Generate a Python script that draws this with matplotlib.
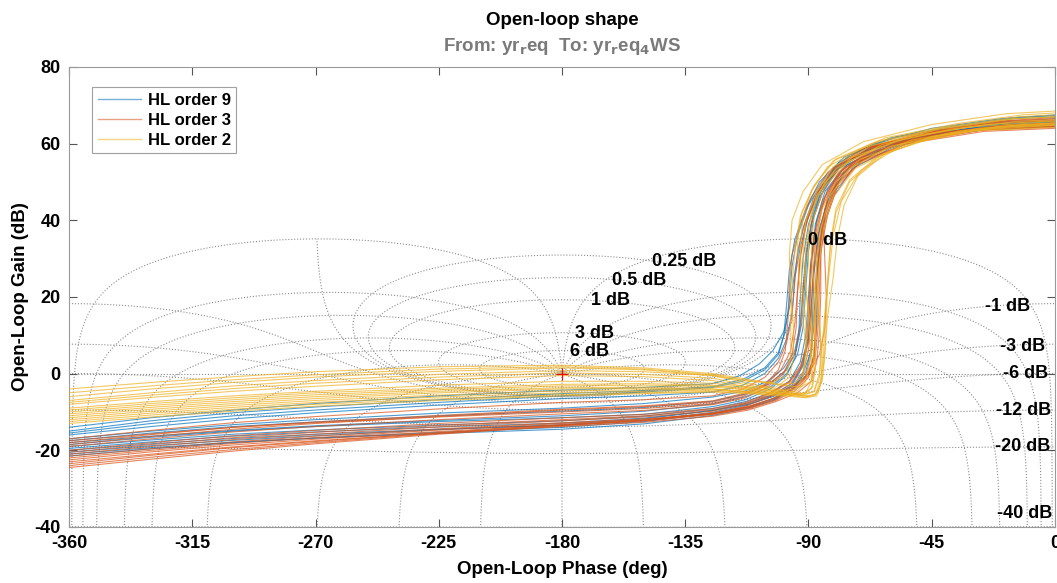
import numpy as np
import matplotlib
matplotlib.use('Agg')
import matplotlib.pyplot as plt
from matplotlib.lines import Line2D

plt.rcParams.update({
    "font.family": ["Liberation Sans", "DejaVu Sans"],
    "font.weight": "bold",
    "mathtext.default": "regular",
    "axes.unicode_minus": False,
})

# shared phase samples (deg) for the low-frequency part of every curve
LOW_PH = [-360, -330, -300, -270, -225, -180, -150, -125]

# HL order 9: low-frequency gains (dB) at LOW_PH, then (phase, gain) points of the knee / high gain part
ORDER9_LOW = [
    [-14.0, -11.5, -9.5, -7.8, -5.8, -4.3, -3.6, -2.6],
    [-15.5, -13.0, -11.0, -9.5, -7.5, -5.8, -4.8, -3.6],
    [-17.0, -15.0, -13.3, -12.0, -10.3, -9.0, -7.8, -6.1],
    [-18.0, -16.3, -14.8, -13.6, -12.2, -11.0, -9.8, -7.9],
    [-19.0, -17.3, -15.8, -14.7, -13.4, -12.3, -11.1, -9.1],
    [-20.0, -18.3, -16.9, -15.8, -14.5, -13.5, -12.2, -10.1],
    [-21.0, -19.3, -17.9, -16.8, -15.6, -14.5, -13.1, -10.9],
    [-16.0, -13.8, -11.8, -10.2, -8.2, -6.5, -5.8, -4.8],
    [-18.5, -16.6, -15.0, -13.8, -12.5, -11.5, -10.6, -8.6],
    [-20.5, -18.8, -17.4, -16.2, -14.6, -13.3, -11.8, -9.6],
    [-15.0, -12.3, -10.2, -8.7, -6.8, -5.2, -4.4, -3.4],
    [-17.5, -15.5, -13.8, -12.6, -11.0, -9.8, -8.8, -7.2],
    [-19.5, -17.8, -16.3, -15.2, -13.9, -12.9, -11.6, -9.6],
    [-21.5, -19.6, -18.0, -16.8, -15.3, -14.0, -12.5, -10.4],
]
ORDER9_TAIL = [
    [(-115, -0.5), (-108, 2.5), (-103, 6), (-99, 11), (-97, 17), (-95.5, 24), (-94, 31), (-92, 38), (-88, 46), (-81, 53), (-67, 59), (-45, 63), (-20, 65.5), (0, 66.5)],
    [(-114, -2), (-106, 1), (-101, 5), (-99, 10), (-98, 18), (-97, 27), (-95, 35), (-91, 43), (-86, 50), (-77, 56.5), (-60, 61.5), (-35, 64.5), (-15, 66.5), (0, 67)],
    [(-113, -4.5), (-105, -2), (-99, 1.5), (-95, 6), (-93, 13), (-92, 22), (-91, 31), (-89, 39), (-86, 46), (-80, 53), (-68, 58.5), (-45, 62.5), (-20, 64.8), (0, 65.5)],
    [(-113, -6), (-104, -3.5), (-98, 0), (-94, 5), (-92, 12), (-91, 22), (-90, 32), (-88, 41), (-84, 49), (-77, 55), (-63, 60), (-40, 63), (-15, 65), (0, 65.5)],
    [(-113, -7.3), (-104, -5), (-97, -2), (-93, 3), (-91, 10), (-90, 20), (-89, 30), (-87, 40), (-83, 48), (-76, 54.5), (-62, 59.5), (-45, 62), (-22, 64.5), (0, 65)],
    [(-113, -8.3), (-103, -6), (-96, -3), (-92, 2), (-90, 9), (-89, 18), (-88, 28), (-86, 38), (-82, 47), (-75, 54), (-60, 59.5), (-40, 63), (-18, 65.5), (0, 66)],
    [(-113, -9.2), (-103, -7), (-96, -4), (-92, 0), (-89, 6), (-88, 15), (-87, 26), (-85, 37), (-81, 46), (-74, 53.5), (-60, 58.8), (-40, 62.5), (-15, 64.5), (0, 64.8)],
    [(-114, -3), (-106, 0), (-101, 4), (-98, 9), (-96, 16), (-95, 25), (-93, 33), (-90, 41), (-86, 48), (-79, 55), (-66, 60), (-45, 64), (-20, 66.5), (0, 67.5)],
    [(-113, -6.8), (-104, -4), (-98, -0.5), (-95, 4), (-93.5, 11), (-93, 20), (-92, 30), (-90, 39), (-86, 47), (-80, 53.5), (-68, 58.8), (-46, 62.5), (-20, 65), (0, 65.7)],
    [(-112, -8), (-102, -5.5), (-95, -3), (-90, 0), (-88, 5), (-87, 13), (-87, 24), (-86, 34), (-84, 43), (-79, 51), (-70, 56.5), (-55, 60.3), (-30, 63.5), (0, 64.5)],
    [(-114, -1.5), (-106, 1.5), (-101, 5.5), (-98.5, 11), (-97, 19), (-96, 28), (-94, 36), (-90, 44), (-84, 51), (-75, 57), (-58, 61.8), (-35, 64.8), (-15, 66.8), (0, 67.3)],
    [(-113, -5.3), (-104, -2.5), (-98, 1), (-94.5, 6), (-92.5, 13), (-91.5, 22), (-90.5, 32), (-88.5, 41), (-85, 48.5), (-78, 54.5), (-64, 59.5), (-42, 63), (-18, 65.2), (0, 65.8)],
    [(-113, -7.8), (-103, -5.5), (-96, -2.5), (-92, 2.5), (-90, 9.5), (-89.5, 19), (-89, 29), (-87.5, 39), (-84, 47.5), (-77, 54), (-63, 59), (-42, 62.8), (-18, 65), (0, 65.5)],
    [(-112, -8.7), (-102, -6.5), (-95, -3.5), (-91, 0.5), (-89, 6.5), (-88.5, 15), (-88, 26), (-86.5, 36), (-83, 45), (-77, 52.5), (-64, 58.3), (-42, 62.3), (-18, 64.3), (0, 64.7)],
]

# HL order 3
ORDER3_LOW = [
    [-17.0, -14.8, -12.8, -11.2, -9.2, -7.5, -6.8, -5.8],
    [-18.5, -16.4, -14.5, -13.0, -11.2, -9.5, -8.6, -7.4],
    [-20.0, -18.0, -16.2, -14.8, -13.0, -11.5, -10.6, -9.1],
    [-21.0, -19.0, -17.2, -15.8, -13.9, -12.3, -11.3, -9.8],
    [-22.0, -20.0, -18.2, -16.7, -14.7, -13.0, -12.0, -10.4],
    [-23.0, -21.0, -19.1, -17.5, -15.5, -13.8, -12.7, -11.1],
    [-24.0, -21.8, -19.8, -18.0, -15.6, -13.5, -12.2, -10.4],
    [-19.0, -17.0, -15.2, -13.8, -12.0, -10.5, -9.6, -8.1],
    [-21.5, -19.6, -17.8, -16.3, -14.4, -12.8, -11.8, -10.5],
    [-17.5, -15.7, -14.0, -12.8, -11.3, -10.0, -9.1, -7.8],
    [-23.5, -21.3, -19.3, -17.7, -15.4, -13.3, -12.1, -10.2],
    [-18.0, -15.9, -14.0, -12.6, -10.9, -9.3, -8.4, -7.1],
    [-20.5, -18.5, -16.7, -15.3, -13.5, -12.0, -11.0, -9.4],
    [-22.5, -20.4, -18.6, -17.1, -15.1, -13.4, -12.3, -10.7],
    [-24.5, -22.3, -20.2, -18.3, -15.8, -13.6, -12.3, -10.5],
]
ORDER3_TAIL = [
    [(-114, -4), (-106, -1), (-101, 3), (-98, 8), (-96, 15), (-95, 24), (-94, 32), (-91, 40), (-87, 47), (-80, 54), (-66, 59.5), (-42, 63.5), (-18, 66), (0, 66.8)],
    [(-114, -5.6), (-105, -3), (-99, 0.5), (-95, 5), (-93, 12), (-92, 21), (-91, 30), (-89, 39), (-85, 47), (-79, 53.5), (-67, 59), (-45, 63), (-20, 65.5), (0, 66)],
    [(-113, -7.5), (-104, -5), (-97, -2), (-93, 2), (-90, 8), (-89, 17), (-88, 27), (-86, 37), (-83, 46), (-77, 53), (-64, 58.5), (-42, 62.5), (-18, 64.8), (0, 65.2)],
    [(-113, -8), (-103, -5.5), (-95, -3), (-90, 0), (-86, 5), (-84, 12), (-83.5, 20), (-84, 29), (-84.5, 38), (-83, 46), (-78, 53), (-66, 59), (-42, 63), (0, 65.5)],
    [(-113, -8.8), (-103, -6.5), (-96, -4), (-91, -1), (-88, 4), (-87, 12), (-86.5, 22), (-86, 32), (-84, 41), (-80, 49), (-73, 55), (-55, 60.5), (-28, 63.5), (0, 64.5)],
    [(-112, -9.5), (-102, -7.3), (-94, -5), (-89, -2), (-87, 3), (-86, 11), (-85.5, 21), (-85.5, 31), (-84, 40), (-80, 48), (-72, 54.5), (-54, 60), (-26, 63.2), (0, 64)],
    [(-113, -8.5), (-104, -6), (-97, -3), (-93, 1), (-91, 7), (-90, 16), (-89.5, 26), (-88, 36), (-85, 45), (-79, 52.5), (-66, 58.8), (-43, 62.8), (-18, 64.8), (0, 65.3)],
    [(-113, -6.3), (-105, -3.5), (-99, 0), (-96, 5), (-94.5, 12), (-94, 21), (-93, 30), (-91, 39), (-87, 47), (-81, 53.5), (-69, 58.8), (-47, 62.8), (-22, 65.3), (0, 66)],
    [(-112, -9), (-102, -6.8), (-95, -4), (-90, -0.5), (-88, 5), (-87.5, 13), (-87.5, 23), (-86.5, 33), (-84, 42), (-79, 50), (-70, 55.8), (-50, 61), (-23, 64), (0, 64.7)],
    [(-114, -6), (-106, -3), (-101, 1), (-98.5, 6), (-97.5, 14), (-97, 23), (-96, 31), (-93, 39), (-89, 46), (-83, 52.5), (-71, 58.5), (-48, 63), (-22, 65.8), (0, 66.5)],
    [(-112, -8.6), (-102, -6.3), (-95, -3.8), (-91, -0.5), (-89, 5), (-88, 13), (-87, 23), (-86, 33), (-84, 42), (-80, 50), (-73, 55.5), (-56, 60.5), (-28, 63.8), (0, 64.6)],
    [(-114, -5.2), (-105, -2.5), (-100, 1), (-96.5, 6), (-95, 13), (-94, 22), (-93, 31), (-90.5, 40), (-86, 47.5), (-79, 54), (-66, 59.3), (-44, 63.2), (-20, 65.7), (0, 66.3)],
    [(-113, -7.8), (-104, -5.3), (-97, -2.3), (-92.5, 2), (-90.5, 8.5), (-89.5, 18), (-89, 28), (-87, 38), (-84, 46), (-78, 53), (-65, 58.7), (-43, 62.6), (-18, 64.9), (0, 65.3)],
    [(-112, -9.2), (-102, -7), (-95, -4.5), (-90, -1), (-87.5, 4.5), (-86.5, 12), (-86, 22), (-85.5, 32), (-83, 41.5), (-79, 49.5), (-71, 55.3), (-52, 60.5), (-26, 63.6), (0, 64.3)],
    [(-112, -8.8), (-103, -6.5), (-96, -3.5), (-92, 0.5), (-90, 6), (-89, 14), (-88.5, 24), (-87.5, 34), (-85, 43.5), (-80, 51), (-68, 57.5), (-46, 62), (-20, 64.5), (0, 65)],
]

# HL order 2
ORDER2_LOW = [
    [-4.0, -2.3, -0.8, 0.5, 1.8, 2.2, 1.5, 0.0],
    [-7.0, -5.0, -3.2, -1.8, -0.2, 0.8, 0.5, -0.5],
    [-8.0, -6.2, -4.6, -3.3, -1.6, -0.5, -0.8, -1.8],
    [-9.0, -7.3, -5.8, -4.6, -3.0, -2.0, -2.0, -2.5],
    [-10.5, -8.8, -7.3, -6.0, -4.6, -3.7, -3.5, -3.5],
    [-11.5, -9.8, -8.3, -7.0, -5.6, -4.5, -4.2, -4.0],
    [-12.5, -10.8, -9.3, -8.0, -6.6, -5.5, -5.0, -4.6],
    [-6.0, -4.0, -2.3, -0.9, 0.6, 1.5, 1.0, -0.5],
    [-9.5, -7.8, -6.3, -5.0, -3.8, -2.8, -2.6, -3.0],
    [-11.0, -9.3, -7.8, -6.5, -5.0, -4.0, -3.8, -4.0],
    [-12.0, -10.3, -8.8, -7.5, -6.1, -5.0, -4.6, -4.3],
    [-5.0, -3.2, -1.6, -0.3, 1.2, 1.8, 1.2, -0.3],
    [-7.5, -5.6, -3.9, -2.5, -0.9, 0.2, -0.2, -1.2],
    [-10.0, -8.3, -6.8, -5.5, -4.2, -3.2, -3.0, -3.2],
    [-13.0, -11.3, -9.8, -8.5, -7.0, -5.8, -5.2, -4.8],
]
ORDER2_TAIL = [
    [(-112, -1.5), (-100, -3), (-93, -3.5), (-89, -2), (-88, 3), (-89, 12), (-91, 22), (-92, 31), (-91, 40), (-87, 47.5), (-81, 54), (-67, 59.5), (-42, 63.8), (-15, 66.5), (0, 67)],
    [(-112, -2.5), (-100, -4.2), (-92, -5.3), (-88, -4.8), (-86, -1), (-85.5, 6), (-86, 15), (-87, 25), (-87.5, 34), (-85, 43), (-80, 50), (-71, 56), (-52, 61), (-28, 64), (0, 65.5)],
    [(-112, -3.5), (-99, -5), (-90, -6), (-86.5, -5), (-85, -1), (-84, 6), (-83, 15), (-81, 25), (-79.5, 35), (-77, 44), (-72, 51.5), (-62, 57.5), (-40, 62.5), (-15, 64.5), (0, 65)],
    [(-112, -3.5), (-102, -3.5), (-97, -1), (-95.5, 4), (-95.5, 12), (-96.5, 22), (-97, 31), (-96, 40), (-92, 47.5), (-85, 54.5), (-70, 60.5), (-45, 65), (-18, 67.8), (0, 68.5)],
    [(-112, -4.2), (-100, -5.2), (-91, -6.3), (-87, -5.8), (-85.5, -2.5), (-85, 4), (-86, 13), (-88, 23), (-89, 32), (-88, 41), (-84, 49), (-75, 55.5), (-57, 61), (-32, 64.3), (0, 65.8)],
    [(-112, -4.6), (-99, -5.5), (-91, -5), (-89, -2), (-89, 5), (-90, 14), (-91, 23), (-91, 33), (-89, 42), (-84, 50), (-74, 56.5), (-52, 62), (-25, 65), (0, 66)],
    [(-112, -5), (-100, -5.6), (-92, -5.8), (-88, -4.5), (-86, 0), (-85, 7), (-84, 16), (-82.5, 26), (-81, 36), (-78, 45), (-71, 53), (-56, 59.5), (-30, 63.3), (0, 64.3)],
    [(-112, -2), (-103, -2.3), (-98, -0.5), (-96.5, 5), (-96.5, 14), (-96, 23), (-95, 32), (-93, 41), (-88, 49), (-80, 56), (-62, 61.5), (-35, 65.3), (-12, 67.5), (0, 68)],
    [(-112, -3.8), (-101, -4.5), (-95, -4), (-92, -1), (-90.5, 5), (-91, 14), (-92.5, 24), (-93, 33), (-92, 41), (-89, 47.5), (-83, 54), (-67, 60), (-42, 64), (-15, 66.5), (0, 67)],
    [(-112, -4.8), (-100, -5.3), (-92, -5.5), (-88.5, -3.5), (-87.5, 2), (-87.5, 10), (-87.5, 20), (-87, 29), (-85.5, 38), (-82, 46.5), (-75, 53.5), (-60, 59.3), (-35, 63.3), (-12, 65), (0, 65.3)],
    [(-112, -4.7), (-101, -5), (-94, -4.5), (-91, -2), (-89.5, 3), (-88.5, 11), (-87, 20), (-86, 29), (-84.5, 38), (-81, 46), (-73, 53.5), (-55, 60), (-30, 63.5), (0, 64.8)],
    [(-112, -1.8), (-101, -2.8), (-95, -2.5), (-92, 0), (-91, 6), (-92, 15), (-93.5, 25), (-94, 34), (-92.5, 42), (-88, 49), (-81, 55.5), (-64, 60.8), (-38, 64.6), (-13, 67), (0, 67.5)],
    [(-112, -3), (-100, -4.5), (-92, -5.8), (-87.5, -5.5), (-85.5, -1.5), (-84.5, 5), (-84, 14), (-83, 24), (-82, 34), (-80, 43), (-75, 50.5), (-65, 56.5), (-45, 61.8), (-20, 64.5), (0, 65.2)],
    [(-112, -4), (-101, -4.8), (-93, -5.5), (-89, -4), (-87.5, 1), (-87.5, 9), (-88.5, 19), (-90, 29), (-90, 38), (-87, 46.5), (-80, 53.5), (-63, 59.8), (-38, 63.8), (-14, 65.8), (0, 66.3)],
    [(-112, -5.2), (-100, -5.8), (-92, -6.2), (-87.5, -5.5), (-85, -2), (-84, 5), (-83.5, 14), (-83, 24), (-82, 33), (-80, 42), (-75, 50), (-64, 56.8), (-45, 61.8), (-20, 64.3), (0, 64.8)],
]

SERIES = [
    ("HL order 9", "#0072BD", ORDER9_LOW, ORDER9_TAIL),
    ("HL order 3", "#D95319", ORDER3_LOW, ORDER3_TAIL),
    ("HL order 2", "#EDB120", ORDER2_LOW, ORDER2_TAIL),
]

# Nichols grid: closed-loop gains (dB) and closed-loop phases (deg)
M_DB = [6, 3, 1, 0.5, 0.25, 0, -1, -3, -6, -12, -20, -40]
N_DEG = [-1, -5, -10, -20, -30, -50, -90, -120, -150, -180]
M_LABELS = [
    ("6 dB", -177.0, 5.7), ("3 dB", -175.3, 10.4), ("1 dB", -169.4, 19.0),
    ("0.5 dB", -161.7, 24.4), ("0.25 dB", -147.1, 29.2), ("0 dB", -90.3, 34.7),
    ("-1 dB", -25.5, 17.6), ("-3 dB", -20.0, 7.2), ("-6 dB", -18.9, 0.0),
    ("-12 dB", -21.5, -9.7), ("-20 dB", -21.9, -19.1), ("-40 dB", -21.2, -36.6),
]


def to_nichols(G):
    ph = np.degrees(np.angle(G))
    ph = np.where(ph > 0, ph - 360, ph)
    return ph, 20 * np.log10(np.abs(G))


def m_contour(mdb):
    m = 10 ** (mdb / 20)
    if mdb == 0:
        y = np.sinh(np.linspace(-np.arcsinh(57.3), np.arcsinh(57.3), 3000))
        G = -0.5 + 1j * y
    else:
        c = -m ** 2 / (m ** 2 - 1)
        rho = m / abs(m ** 2 - 1)
        th = np.linspace(1e-7, 2 * np.pi - 1e-7, 3000)
        G = c + rho * np.exp(1j * th)
    return to_nichols(G)


def n_contour(psi):
    m = np.logspace(-3, 4, 8000)
    T = m * np.exp(1j * np.radians(psi))
    return to_nichols(T / (1 - T))


fig = plt.figure(figsize=(10.57, 5.83), dpi=100)
ax = fig.add_axes([0.0653, 0.0961, 0.9328, 0.789])

grid_kw = dict(color='#8c8c8c', linestyle=':', linewidth=0.8, zorder=1)
for mdb in M_DB:
    ph, g = m_contour(mdb)
    ax.plot(ph, g, **grid_kw)
for psi in N_DEG:
    for p in {psi, -360 - psi}:
        ph, g = n_contour(p)
        ax.plot(ph, g, **grid_kw)
ax.axhline(0, **grid_kw)

handles = []
for name, color, lows, tails in SERIES:
    for low, tail in zip(lows, tails):
        ph = LOW_PH + [p for p, _ in tail]
        g = low + [v for _, v in tail]
        ax.plot(ph, g, color=color, linewidth=0.8, alpha=0.7, zorder=3)
    handles.append(Line2D([], [], color=color, linewidth=1.0, alpha=0.55, label=name))

ax.plot(-180, 0, '+', color='red', markersize=8, markeredgewidth=0.8, zorder=4)

for txt, x, y in M_LABELS:
    ax.text(x, y, txt, fontsize=13, fontweight='bold', ha='left', va='center', zorder=5)

ax.set_xlim(-360, 0)
ax.set_ylim(-40, 80)
ax.set_xticks(np.arange(-360, 1, 45))
ax.set_yticks(np.arange(-40, 81, 20))
ax.tick_params(direction='in', length=6, width=0.8, top=True, right=True,
               color='#555555', labelsize=13, pad=6)
for s in ax.spines.values():
    s.set_color('#9a9a9a')
    s.set_linewidth(0.8)

ax.set_xlabel('Open-Loop Phase (deg)', fontsize=13.5, fontweight='bold')
ax.set_ylabel('Open-Loop Gain (dB)', fontsize=13.5, fontweight='bold')
ax.xaxis.set_label_coords(0.5, -0.0935)
ax.xaxis.label.set_va('center')
ax.yaxis.set_label_coords(-0.0497, 0.5)
ax.yaxis.label.set_va('center')

fig.text(0.5317, 0.964, 'Open-loop shape', ha='center', va='center',
         fontsize=13.5, fontweight='bold', color='black')
fig.text(0.5317, 0.921,
         r'From: yr$_{\mathbf{r}}$eq  To: yr$_{\mathbf{r}}$eq$_{\mathbf{4}}$WS',
         ha='center', va='center', fontsize=13.5, fontweight='bold', color='#7a7a7a')

leg = ax.legend(handles=handles, loc='upper left', bbox_to_anchor=(0.023, 0.957),
                borderaxespad=0, fontsize=12, frameon=True, fancybox=False,
                framealpha=1, edgecolor='#a0a0a0', handlelength=2.6,
                labelspacing=0.3, borderpad=0.35, handletextpad=0.4)
leg.get_frame().set_linewidth(0.8)

fig.savefig('out.png', dpi=100)
